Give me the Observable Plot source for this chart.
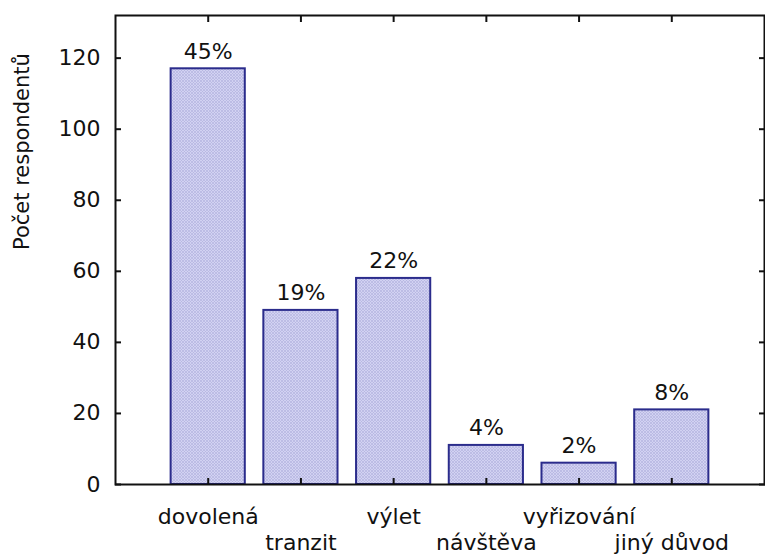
<!DOCTYPE html>
<html>
<head>
<meta charset="utf-8">
<script src="https://cdn.jsdelivr.net/npm/d3@7"></script>
<script src="https://cdn.jsdelivr.net/npm/@observablehq/plot@0.6"></script>
<style>
  html, body { margin: 0; padding: 0; background: #fff; }
  #chart svg { display: block; }
</style>
</head>
<body>
<div id="chart"></div>
<script>
const categories = ["dovolená", "tranzit", "výlet", "návštěva", "vyřizování", "jiný důvod"];
const counts = [117, 49, 58, 11, 6, 21];
const percents = ["45%", "19%", "22%", "4%", "2%", "8%"];
const yTicks = [0, 20, 40, 60, 80, 100, 120];
const yLabel = "Počet respondentů";

const data = categories.map((c, i) => ({cat: c, pos: i + 1, count: counts[i], pct: percents[i]}));
const positions = data.map(d => d.pos);
const font = "'DejaVu Sans', 'Liberation Sans', Arial, sans-serif";
const nameAt = p => categories[p - 1];
const ink = "#111";

const chart = Plot.plot({
  width: 765,
  height: 558,
  marginLeft: 115,
  marginRight: 1,
  marginTop: 15,
  marginBottom: 74,
  style: {fontFamily: font, fontSize: "22px", color: ink, background: "#fff"},
  x: {domain: [0, 7], axis: null},
  y: {domain: [0, 132], axis: null},
  marks: [
    Plot.rectY(data, {
      x1: d => d.pos - 0.4, x2: d => d.pos + 0.4, y1: 0, y2: "count",
      fill: "url(#hatch)", stroke: "#2b2c8c", strokeWidth: 2
    }),
    Plot.text(data, {x: "pos", y: "count", text: "pct", dy: -17, fontSize: 22, fill: ink}),
    Plot.frame({stroke: ink, strokeWidth: 2}),
    Plot.axisY({anchor: "left", ticks: yTicks, tickSize: -6, tickPadding: 21, strokeWidth: 2, stroke: ink, fill: ink, fontSize: 22, label: null}),
    Plot.axisY({anchor: "right", ticks: yTicks, tickSize: -6, strokeWidth: 2, stroke: ink, fill: "none", label: null}),
    Plot.axisX({anchor: "top", ticks: positions, tickSize: -6, strokeWidth: 2, stroke: ink, fill: "none", label: null}),
    Plot.axisX({anchor: "bottom", ticks: positions, tickSize: -6, strokeWidth: 2, stroke: ink, fill: "none", label: null}),
    Plot.axisX({anchor: "bottom", ticks: [1, 3, 5], tickSize: 0, tickPadding: 24, tickFormat: nameAt, fill: ink, fontSize: 22, label: null}),
    Plot.axisX({anchor: "bottom", ticks: [2, 4, 6], tickSize: 0, tickPadding: 50, tickFormat: nameAt, fill: ink, fontSize: 22, label: null}),
    Plot.text([yLabel], {frameAnchor: "left", rotate: -90, dx: -93, fontSize: 21, fill: ink})
  ]
});

// hatch pattern for bar fill
const svgNS = "http://www.w3.org/2000/svg";
const defs = document.createElementNS(svgNS, "defs");
defs.innerHTML = `
  <pattern id="hatch" patternUnits="userSpaceOnUse" width="3" height="3">
    <rect width="3" height="3" fill="#d2d2f2"></rect>
    <path d="M0,0 L3,3 M3,0 L0,3" stroke="#b4b4e0" stroke-width="0.7"></path>
  </pattern>`;
chart.insertBefore(defs, chart.firstChild);
document.getElementById("chart").appendChild(chart);
</script>
</body>
</html>
